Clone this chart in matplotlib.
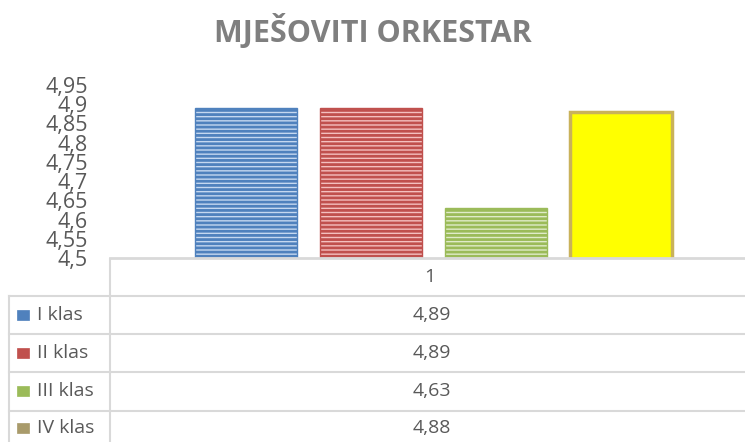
import matplotlib

matplotlib.use("Agg")
import matplotlib.pyplot as plt
from matplotlib.patches import Rectangle

TITLE = "MJEŠOVITI ORKESTAR"
CATEGORY = "1"
SERIES = ["I klas", "II klas", "III klas", "IV klas"]
VALUES = [4.89, 4.89, 4.63, 4.88]
Y_TICKS = [4.5, 4.55, 4.6, 4.65, 4.7, 4.75, 4.8, 4.85, 4.9, 4.95]

# face, stripe/edge, hatch, legend key colour
FACES = ["#c5d8f0", "#f4c0bf", "#e0ebc9", "#ffff00"]
EDGES = ["#4f81bd", "#c0504d", "#9bbb59", "#c9b25a"]
HATCHES = ["----", "----", "----", None]
KEYS = ["#4f81bd", "#c0504d", "#9bbb59", "#a99b6b"]

W, H = 745, 442
GRID = "#d9d9d9"
TXT = "#595959"

plt.rcParams["font.family"] = ["Open Sans", "DejaVu Sans"]
plt.rcParams["hatch.linewidth"] = 2.0

fig = plt.figure(figsize=(W / 100, H / 100), dpi=100)

fig.text(373 / W, 1 - 32 / H, TITLE, ha="center", va="center",
         fontsize=22, fontweight="bold", color="#7f7f7f")

# plot area (pixel layout of the original)
ax = fig.add_axes([110 / W, 1 - 258 / H, 635 / W, (258 - 85) / H])
x = list(range(len(VALUES)))
for i, v in enumerate(VALUES):
    ax.bar(x[i], v, width=0.816, color=FACES[i], edgecolor=EDGES[i],
           hatch=HATCHES[i], linewidth=1.0 if HATCHES[i] else 2.5, zorder=2)
ax.set_ylim(Y_TICKS[0], Y_TICKS[-1])
ax.set_xlim(-1.088, 3.992)
ax.set_yticks(Y_TICKS)
ax.set_yticklabels([f"{t:g}".replace(".", ",") for t in Y_TICKS],
                   fontsize=15.5, color=TXT)
ax.tick_params(axis="y", length=0, pad=16)
ax.set_xticks([])
for s in ["left", "top", "right"]:
    ax.spines[s].set_visible(False)
ax.spines["bottom"].set_color(GRID)
ax.spines["bottom"].set_linewidth(2)

# data table underneath, in pixel units
tb = fig.add_axes([0, 0, 1, (H - 258) / H])
tb.set_xlim(0, W)
tb.set_ylim(H, 258)
tb.axis("off")
rows = [296, 334, 372, 411]
tb.plot([110, 110], [258, H], color=GRID, lw=1.5)
tb.plot([9, 9], [rows[0], H], color=GRID, lw=1.5)
for y in rows:
    tb.plot([9, W], [y, y], color=GRID, lw=1.5)
tb.text(430, 277, CATEGORY, ha="center", va="center", fontsize=14, color=TXT)
centers = [315, 353, 391, 428]
for i, name in enumerate(SERIES):
    cy = centers[i]
    tb.add_patch(Rectangle((17, cy - 5), 12, 10, facecolor=KEYS[i],
                           edgecolor=KEYS[i], lw=0.5))
    tb.text(37, cy, name, ha="left", va="center", fontsize=14, color=TXT)
    tb.text(432, cy, f"{VALUES[i]:g}".replace(".", ","), ha="center",
            va="center", fontsize=14, color=TXT)

fig.savefig("out.png", dpi=100)
